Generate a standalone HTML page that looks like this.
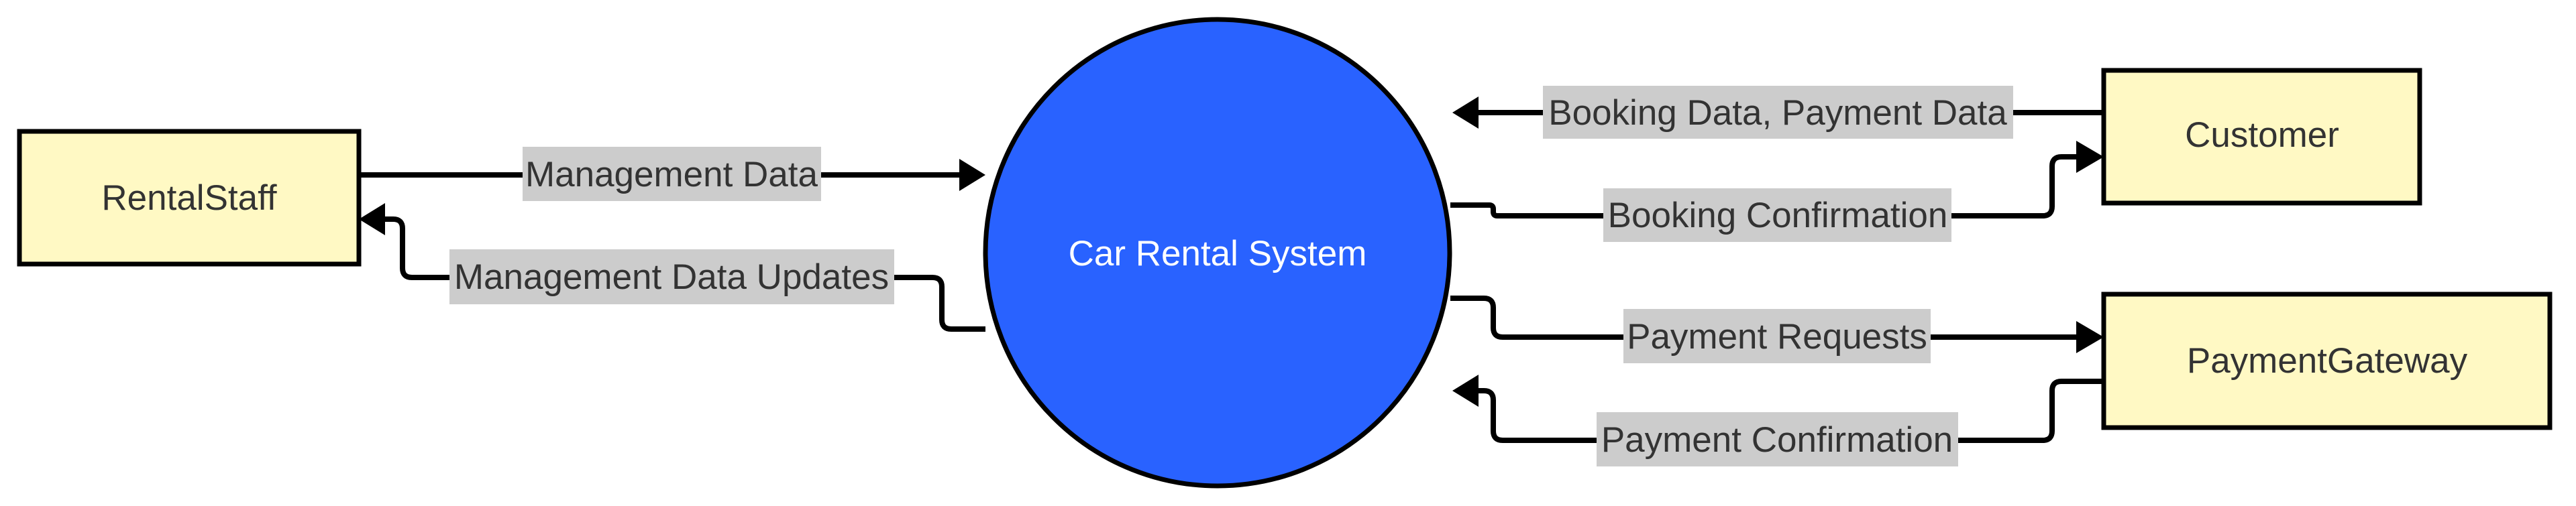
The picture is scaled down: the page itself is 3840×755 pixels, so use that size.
<!DOCTYPE html>
<html><head><meta charset="utf-8"><style>
html,body{margin:0;padding:0;background:#fff;}
svg{display:block;}
text{font-family:"Liberation Sans",Arial,sans-serif;font-size:53px;}
</style></head><body>
<svg width="3840" height="755" viewBox="0 0 3840 755" xmlns="http://www.w3.org/2000/svg">
<defs>
<marker id="ah" markerWidth="10" markerHeight="10" refX="0" refY="0" orient="auto" markerUnits="userSpaceOnUse" viewBox="0 -25 40 50" overflow="visible">
</marker>
</defs>
<g fill="none" stroke="#000" stroke-width="8">
<!-- Management Data -->
<path d="M535 261 H1432"/>
<!-- Management Data Updates -->
<path d="M1469 491 H1418 Q1404 491 1404 477 V428 Q1404 414 1390 414 H614 Q600 414 600 400 V341 Q600 327 586 327 H572"/>
<!-- Booking Data -->
<path d="M3136 168 H2202"/>
<!-- Booking Confirmation -->
<path d="M2162 306 H2220 Q2226 306 2226 312 V316 Q2226 322 2232 322 H3045 Q3059 322 3059 308 V248 Q3059 234 3073 234 H3098"/>
<!-- Payment Requests -->
<path d="M2162 445 H2212 Q2226 445 2226 459 V489 Q2226 503 2240 503 H3098"/>
<!-- Payment Confirmation -->
<path d="M3136 569 H3073 Q3059 569 3059 583 V643 Q3059 657 3045 657 H2240 Q2226 657 2226 643 V597 Q2226 583 2212 583 H2202"/>
</g>
<g fill="#000">
<polygon points="1469,261 1430,237 1430,285"/>
<polygon points="535,327 574,303 574,351"/>
<polygon points="2165,168 2204,144 2204,192"/>
<polygon points="3136,234 3095,210 3095,258"/>
<polygon points="3136,503 3095,479 3095,527"/>
<polygon points="2165,583 2204,559 2204,607"/>
</g>
<rect x="29" y="196" width="506" height="198" fill="#FFF9C4" stroke="#000" stroke-width="7"/>
<rect x="3136" y="105" width="471" height="198" fill="#FFF9C4" stroke="#000" stroke-width="7"/>
<rect x="3136" y="439" width="665" height="199" fill="#FFF9C4" stroke="#000" stroke-width="7"/>
<ellipse cx="1815" cy="377" rx="346" ry="348" fill="#2962FF" stroke="#000" stroke-width="7"/>
<g fill="#CCCCCC">
<rect x="779" y="219" width="445" height="81"/>
<rect x="670" y="372" width="663" height="82"/>
<rect x="2300" y="128" width="701" height="79"/>
<rect x="2390" y="281" width="519" height="80"/>
<rect x="2420" y="461" width="458" height="81"/>
<rect x="2380" y="615" width="539" height="81"/>
</g>
<g fill="#333" text-anchor="middle">
<text x="282" y="313">RentalStaff</text>
<text x="3372" y="219">Customer</text>
<text x="3469" y="556">PaymentGateway</text>
<text x="1001" y="278">Management Data</text>
<text x="1001" y="431">Management Data Updates</text>
<text x="2650" y="186">Booking Data, Payment Data</text>
<text x="2650" y="339">Booking Confirmation</text>
<text x="2649" y="520">Payment Requests</text>
<text x="2649" y="674">Payment Confirmation</text>
</g>
<text x="1815" y="396" fill="#fff" text-anchor="middle">Car Rental System</text>
</svg>
</body></html>
